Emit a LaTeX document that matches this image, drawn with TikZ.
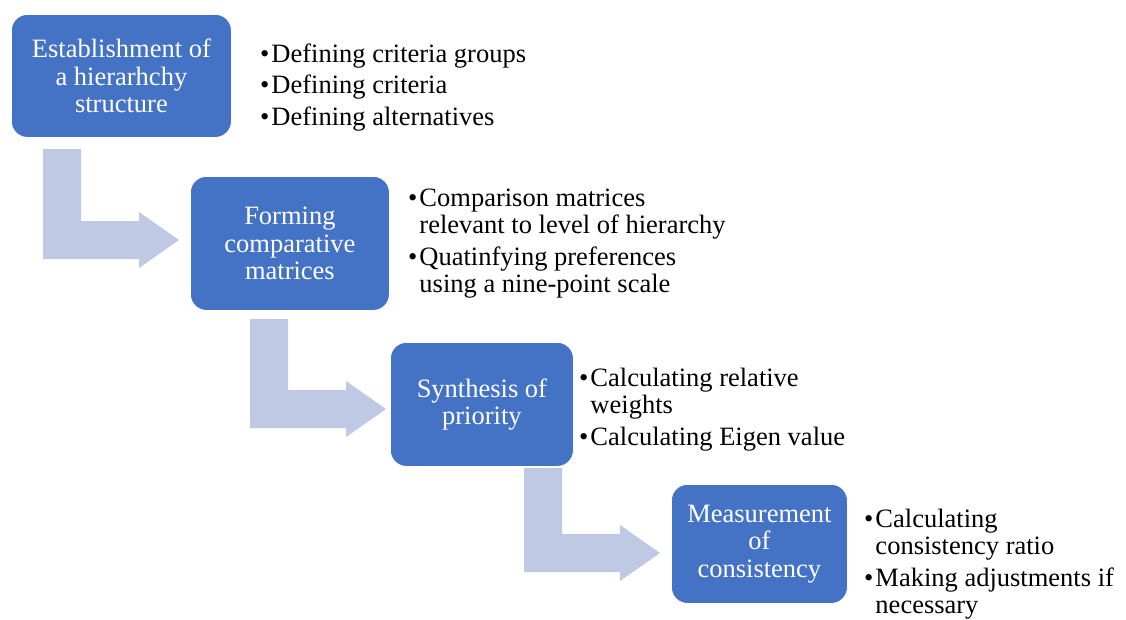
\documentclass[tikz,border=0pt]{standalone}
\usepackage{fontspec}
\setmainfont{Liberation Serif}
\usepackage{xcolor}
\definecolor{stageblue}{HTML}{4472C4}
\definecolor{flowlilac}{HTML}{BFC9E3}

\begin{document}
\begin{tikzpicture}[x=1pt, y=-1pt,
                    every node/.style={font=\fontsize{26.5}{27.5}\selectfont},
                    stagebox/.style={fill=stageblue, draw=white, line width=0.8pt,
                                     rounded corners=16pt, text=white, align=center,
                                     inner sep=0pt, anchor=north west},
                    notelist/.style={anchor=base west, inner sep=0pt, text=black},
                    pics/bentarrow/.style={code={
                      \fill[flowlilac] (-136,-#1) -- (-98,-#1) -- (-98,-19) -- (-40,-19)
                        -- (-40,-28) -- (0,0) -- (-40,28) -- (-40,19) -- (-136,19) -- cycle;}}]

  %% 画布
  \fill[white] (0,0) rectangle (1126,619);
  \useasboundingbox (0,0) rectangle (1126,619);

  %% 四个步骤
  \node[stagebox, minimum width=220pt, minimum height=123pt] (build) at (11,14)
    {Establishment of\\a hierarhchy\\structure};
  \node[stagebox, minimum width=199pt, minimum height=134pt] (form) at (190,176)
    {Forming\\comparative\\matrices};
  \node[stagebox, minimum width=183pt, minimum height=124pt] (synth) at (390,342)
    {Synthesis of\\priority};
  \node[stagebox, minimum width=176pt, minimum height=119pt] (measure) at (671,484)
    {Measurement\\of\\consistency};

  %% 步骤之间的折线箭头
  \pic at (179,240) {bentarrow=91};
  \pic at (386,409) {bentarrow=90};
  \pic at (660,553) {bentarrow=85};

  %% 各步骤的要点
  \node[notelist] (buildnotes) at (260,62)
    {\begin{tabular}[t]{@{}l@{\hspace{2pt}}l@{}}
      \textbullet & Defining criteria groups\\[4pt]
      \textbullet & Defining criteria\\[4pt]
      \textbullet & Defining alternatives
    \end{tabular}};
  \node[notelist] (formnotes) at (408,206)
    {\begin{tabular}[t]{@{}l@{\hspace{2pt}}l@{}}
      \textbullet & Comparison matrices\\
                  & relevant to level of hierarchy\\[4pt]
      \textbullet & Quatinfying preferences\\
                  & using a nine-point scale
    \end{tabular}};
  \node[notelist] (synthnotes) at (579,386)
    {\begin{tabular}[t]{@{}l@{\hspace{2pt}}l@{}}
      \textbullet & Calculating relative\\
                  & weights\\[4pt]
      \textbullet & Calculating Eigen value
    \end{tabular}};
  \node[notelist] (measurenotes) at (864,527)
    {\begin{tabular}[t]{@{}l@{\hspace{2pt}}l@{}}
      \textbullet & Calculating\\
                  & consistency ratio\\[4pt]
      \textbullet & Making adjustments if\\
                  & necessary
    \end{tabular}};

\end{tikzpicture}
\end{document}
